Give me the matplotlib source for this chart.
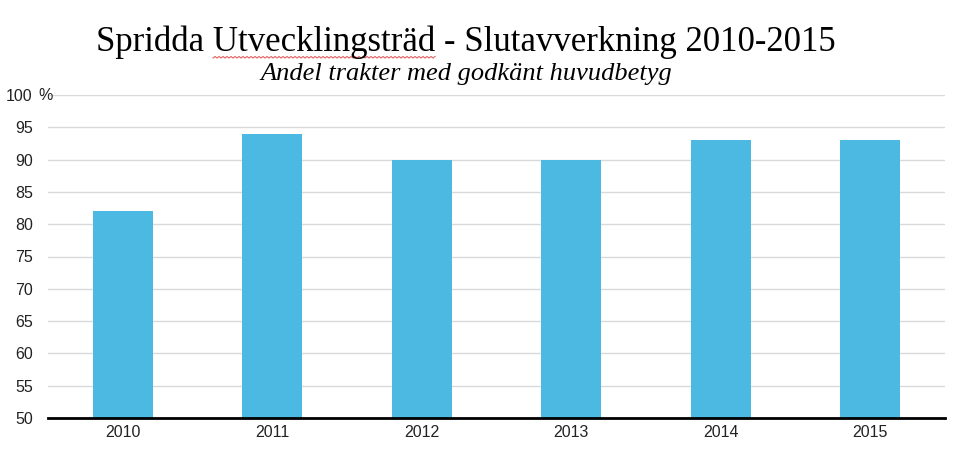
import matplotlib.pyplot as plt
import numpy as np

# data
years = ['2010', '2011', '2012', '2013', '2014', '2015']
andel = [82, 94, 90, 90, 93, 93]
yticks = [50, 55, 60, 65, 70, 75, 80, 85, 90, 95, 100]

plt.rcParams['font.family'] = ['Liberation Sans', 'DejaVu Sans']

fig = plt.figure(figsize=(9.57, 4.57), dpi=100)
ax = fig.add_axes([48/957, 39/457, 897/957, 323/457])

x = np.arange(len(years))
ax.bar(x, andel, width=0.4, color='#4cb9e2', zorder=3)
ax.set_xlim(-0.5, len(years)-0.5)
ax.set_ylim(50, 100)
ax.set_yticks(yticks)
ax.set_xticks(x)
ax.set_xticklabels(years)
ax.tick_params(axis='both', length=0, labelsize=11.5, colors='#222222')
ax.tick_params(axis='y', pad=11)
ax.tick_params(axis='x', pad=5)
ax.yaxis.grid(True, color='#d9d9d9', linewidth=1, zorder=0)
for s in ['top', 'right', 'left']:
  ax.spines[s].set_visible(False)
ax.spines['bottom'].set_linewidth(2)
ax.spines['bottom'].set_zorder(4)

fig.text(38/957, 1-95/457, '%', fontsize=11.5, ha='left', va='center', color='#222222')

title = 'Spridda Utvecklingsträd - Slutavverkning 2010-2015'
tt = fig.text(466/957, 1-42/457, title,
              family='Liberation Serif', fontsize=25, ha='center', va='center')
fig.text(466/957, 1-74/457, 'Andel trakter med godkänt huvudbetyg',
         family='Liberation Serif', style='italic', fontsize=19, ha='center', va='center')

# red spell-check squiggle under "Utvecklingsträd"
r = fig.canvas.get_renderer()
bb = tt.get_window_extent(r)
def width_of(s):
  t = fig.text(0, 0, s, family='Liberation Serif', fontsize=25)
  w = t.get_window_extent(r).width
  t.remove()
  return w
x0 = bb.x0 + width_of('Spridda ')
x1 = bb.x0 + width_of('Spridda Utvecklingsträd')
xs = np.arange(x0, x1, 2.0)
ys = (457 - 58) + np.where(np.arange(len(xs)) % 2 == 0, 0, 1.5)
fig.add_artist(plt.Line2D(xs/957, ys/457, color='#e06060', linewidth=0.8))

fig.savefig('out.png', dpi=100)
